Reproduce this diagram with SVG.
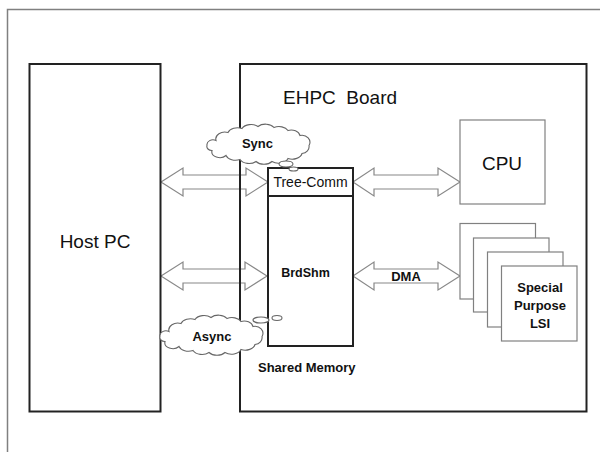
<svg xmlns="http://www.w3.org/2000/svg" width="600" height="452" viewBox="0 0 600 452">
  <style>
    .frame { fill: none; stroke: #808080; stroke-width: 1.5; }
    .box { fill: none; stroke: #222; stroke-width: 2; }
    .wbox { fill: #fff; stroke: #222; stroke-width: 2; }
    .gbox { fill: #fff; stroke: #808080; stroke-width: 1.2; }
    .barrow { fill: #fff; stroke: #888; stroke-width: 1.2; stroke-linejoin: miter; }
    .cloud { fill: #fff; stroke: #666; stroke-width: 1.1; }
    .big { font-family: "Liberation Sans", Arial, sans-serif; font-size: 19px; fill: #111; }
    .lbl { font-family: "Liberation Sans", Arial, sans-serif; font-size: 13px; font-weight: bold; fill: #111; }
    .reg { font-family: "Liberation Sans", Arial, sans-serif; font-size: 14px; fill: #111; }
  </style>
  <defs>
    <path id="cloudShape" d="M10,16 A9,7 0 0 1 22,8 A10,7 0 0 1 36,4 A10,7 0 0 1 52,2 A10,7 0 0 1 68,3 A10,7 0 0 1 82,6 A9,7 0 0 1 94,11 A8,7 0 0 1 103,21 A8,7 0 0 1 96,29 A10,7 0 0 1 82,34 A10,7 0 0 1 66,37 A10,7 0 0 1 50,37 A10,7 0 0 1 34,35 A10,7 0 0 1 20,31 A8,6 0 0 1 6,26 A5,4 0 0 1 1,21 A6,5 0 0 1 10,16 Z"/>
  </defs>

  <!-- outer frame -->
  <path class="frame" d="M7.5,452 L7.5,9.5 L600,9.5"/>

  <!-- connectors (block arrows) -->
  <g id="connectors">
    <path class="barrow" d="M161,182 L183,168 L183,175 L246,175 L246,168 L268,182 L246,196 L246,189 L183,189 L183,196 Z"/>
    <path class="barrow" d="M161,276 L183,262 L183,269 L245,269 L245,262 L267,276 L245,290 L245,283 L183,283 L183,290 Z"/>
    <path class="barrow" d="M353,182 L374,168 L374,175 L438,175 L438,168 L460,182 L438,196 L438,189 L374,189 L374,196 Z"/>
    <path class="barrow" d="M353,276 L374,262 L374,269 L438,269 L438,262 L460,276 L438,290 L438,283 L374,283 L374,290 Z"/>
    <text class="lbl" x="406" y="281" text-anchor="middle">DMA</text>
  </g>

  <g id="host-pc">
    <rect class="box" x="29.5" y="64" width="131" height="347.5"/>
    <text class="big" x="95" y="248" text-anchor="middle">Host PC</text>
  </g>

  <g id="ehpc-board">
    <rect class="box" x="240" y="64" width="346.5" height="347.5"/>
    <text class="big" x="283" y="104" style="white-space:pre">EHPC  Board</text>
  </g>

  <g id="cpu">
    <rect class="gbox" x="460" y="120" width="85" height="84"/>
    <text class="big" x="502" y="170" text-anchor="middle">CPU</text>
  </g>

  <g id="special-purpose-lsi">
    <rect class="gbox" x="460" y="223.5" width="75.5" height="75.5"/>
    <rect class="gbox" x="473.5" y="238" width="75.5" height="74"/>
    <rect class="gbox" x="487.5" y="252" width="75.5" height="75"/>
    <rect class="gbox" x="501.5" y="266" width="75.5" height="75"/>
    <text class="lbl" x="540" y="291.5" text-anchor="middle">Special</text>
    <text class="lbl" x="540" y="310" text-anchor="middle">Purpose</text>
    <text class="lbl" x="540" y="328" text-anchor="middle">LSI</text>
  </g>

  <g id="shared-memory">
    <rect class="wbox" x="268" y="168" width="85" height="178"/>
    <line x1="268" y1="196" x2="353" y2="196" stroke="#222" stroke-width="2"/>
    <text class="reg" x="310.5" y="187" text-anchor="middle">Tree-Comm</text>
    <text class="lbl" x="305.5" y="276.5" text-anchor="middle" style="font-size:12.5px">BrdShm</text>
    <text class="lbl" x="258" y="372">Shared Memory</text>
  </g>

  <g id="sync-cloud">
    <use href="#cloudShape" class="cloud" transform="translate(206,124.5)"/>
    <ellipse class="cloud" cx="286" cy="164" rx="7" ry="3"/>
    <ellipse class="cloud" cx="293.5" cy="169" rx="4.5" ry="2"/>
    <text class="lbl" x="257.5" y="148" text-anchor="middle">Sync</text>
  </g>

  <g id="async-cloud">
    <use href="#cloudShape" class="cloud" transform="translate(159,315.5)"/>
    <ellipse class="cloud" cx="261" cy="320" rx="8" ry="3"/>
    <ellipse class="cloud" cx="277" cy="318" rx="5" ry="2.5"/>
    <text class="lbl" x="212" y="340.5" text-anchor="middle">Async</text>
  </g>
</svg>
